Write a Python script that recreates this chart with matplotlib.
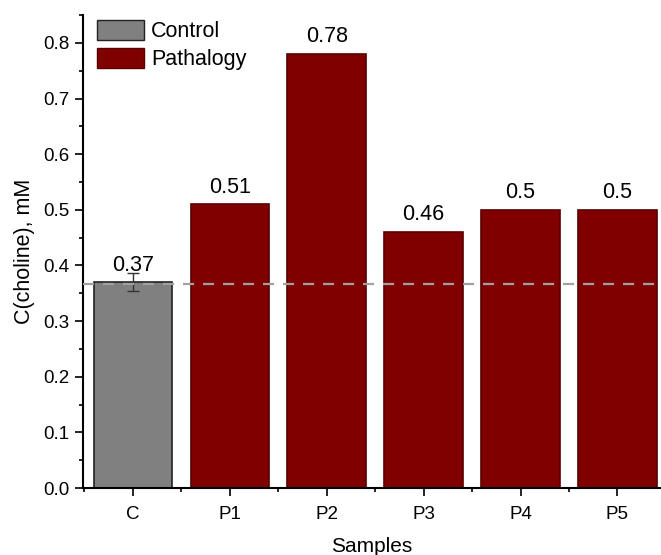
import numpy as np
import matplotlib.pyplot as plt
from matplotlib.patches import Patch
from matplotlib.ticker import MultipleLocator

plt.rcParams['font.family'] = ['Liberation Sans', 'DejaVu Sans']

samples = ['C', 'P1', 'P2', 'P3', 'P4', 'P5']
values = [0.37, 0.51, 0.78, 0.46, 0.5, 0.5]
labels = ['0.37', '0.51', '0.78', '0.46', '0.5', '0.5']
errors = [0.016, 0, 0, 0, 0, 0]
control_level = 0.366

grey = '#808080'
red = '#800000'
colors = [grey] + [red] * 5
edges = ['#222222'] + ['#5a0000'] * 5

fig = plt.figure(figsize=(6.61, 5.55), dpi=100)
ax = fig.add_axes([0.1256, 0.1207, 0.8744, 0.852])

x = np.arange(len(samples))
ax.bar(x, values, width=0.81, color=colors, edgecolor=edges, linewidth=1.2, zorder=2)
ax.errorbar(x[0], values[0], yerr=errors[0], fmt='none', ecolor='#333333',
            elinewidth=1, capsize=4, zorder=3)
ax.axhline(control_level, color='#a0a0a0', linestyle=(0, (5, 4)), linewidth=1.6, zorder=4)

for xi, v, lab in zip(x, values, labels):
    ax.text(xi, v + 0.012, lab, ha='center', va='bottom', fontsize=15.5)

ax.set_xlim(-0.515, 5.45)
ax.set_ylim(0, 0.85)
ax.set_xticks(x)
ax.set_xticklabels(samples)
ax.xaxis.set_minor_locator(MultipleLocator(1, offset=0.5))
ax.yaxis.set_major_locator(MultipleLocator(0.1))
ax.yaxis.set_minor_locator(MultipleLocator(0.05))
ax.tick_params(which='major', direction='out', length=6, width=1.2, labelsize=13.5)
ax.tick_params(which='minor', direction='out', length=3, width=1.2)
ax.tick_params(axis='x', which='major', pad=7)
ax.spines['top'].set_visible(False)
ax.spines['right'].set_visible(False)
ax.spines['left'].set_linewidth(1.5)
ax.spines['bottom'].set_linewidth(1.5)

ax.set_xlabel('Samples', fontsize=15, labelpad=10)
ax.set_ylabel('C(choline), mM', fontsize=15.5, labelpad=6)

handles = [Patch(facecolor=grey, edgecolor='#222222', label='Control'),
           Patch(facecolor=red, edgecolor='#5a0000', label='Pathalogy')]
ax.legend(handles=handles, loc='upper left', bbox_to_anchor=(0.002, 1.017), frameon=False,
          fontsize=15.5, handlelength=2.2, handleheight=1.05, handletextpad=0.3,
          labelspacing=0.25, borderaxespad=0.2)

fig.savefig('out.png', dpi=100)
